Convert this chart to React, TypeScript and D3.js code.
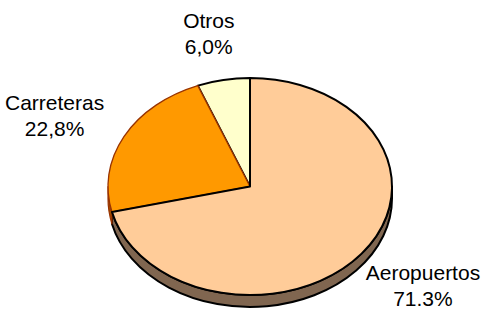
import React, { useMemo } from 'react'
import * as d3 from 'd3'

// share of total by mode
const categories = ['Aeropuertos', 'Carreteras', 'Otros']
const shares = [71.3, 22.8, 6.0]
const shareLabels = ['71.3%', '22,8%', '6,0%']

const topColors = ['#ffcc99', '#ff9900', '#ffffcc']
const sideColors = ['#806650', '#a04c00', '#80806a']
const edgeColors = ['#000000', '#993300', '#000000']

export default function App() {
    const width = 491
    const height = 312
    const cx = 250
    const cy = 186.5
    const rx = 142
    const ry = 108.5
    const depth = 12

    const arcs = useMemo(
        () =>
            d3
                .pie<number>()
                .sort(null)
                .value(d => d)(shares),
        []
    )

    const pt = (a: number, dy = 0, fx = 1, fy = 1) => [
        cx + rx * fx * Math.sin(a),
        cy + dy - ry * fy * Math.cos(a),
    ]

    const topPath = (a0: number, a1: number) => {
        const [x0, y0] = pt(a0)
        const [x1, y1] = pt(a1)
        const large = a1 - a0 > Math.PI ? 1 : 0
        return `M${cx},${cy}L${x0},${y0}A${rx},${ry} 0 ${large} 1 ${x1},${y1}Z`
    }

    // only the front half of the rim shows
    const sidePath = (a0: number, a1: number) => {
        const s = Math.max(a0, Math.PI / 2)
        const e = Math.min(a1, (Math.PI * 3) / 2)
        if (e <= s) return null
        const [x0, y0] = pt(s)
        const [x1, y1] = pt(e)
        const [x2, y2] = pt(e, depth)
        const [x3, y3] = pt(s, depth)
        return `M${x0},${y0}A${rx},${ry} 0 0 1 ${x1},${y1}L${x2},${y2}A${rx},${ry} 0 0 0 ${x3},${y3}Z`
    }

    // draw order so the black edges sit on top
    const order = [2, 1, 0]

    return (
        <svg
            width={width}
            height={height}
            style={{ position: 'absolute', left: 0, top: 0, background: '#fff' }}
            fontFamily="'Liberation Sans', Arial, sans-serif"
        >
            <g>
                {arcs.map((a, i) => {
                    const d = sidePath(a.startAngle, a.endAngle)
                    return d ? (
                        <path
                            key={`side-${i}`}
                            d={d}
                            fill={sideColors[i]}
                            stroke={i === 0 ? '#000' : edgeColors[i]}
                            strokeWidth={i === 0 ? 2 : 1.2}
                            strokeLinejoin="round"
                        />
                    ) : null
                })}
            </g>
            <g>
                {order.map(i => {
                    const a = arcs[i]
                    return (
                        <path
                            key={`top-${i}`}
                            d={topPath(a.startAngle, a.endAngle)}
                            fill={topColors[i]}
                            stroke={edgeColors[i]}
                            strokeWidth={i === 1 ? 1.3 : 2}
                            strokeLinejoin="round"
                        />
                    )
                })}
            </g>
            <g fontSize={21} textAnchor="middle" fill="#000">
                {arcs.map((a, i) => {
                    const mid = (a.startAngle + a.endAngle) / 2
                    const [x, y] = pt(mid, -4, 1.55, 1.45)
                    return (
                        <text key={`lab-${i}`} x={x} y={y}>
                            <tspan x={x}>{categories[i]}</tspan>
                            <tspan x={x} dy={26}>
                                {shareLabels[i]}
                            </tspan>
                        </text>
                    )
                })}
            </g>
        </svg>
    )
}
